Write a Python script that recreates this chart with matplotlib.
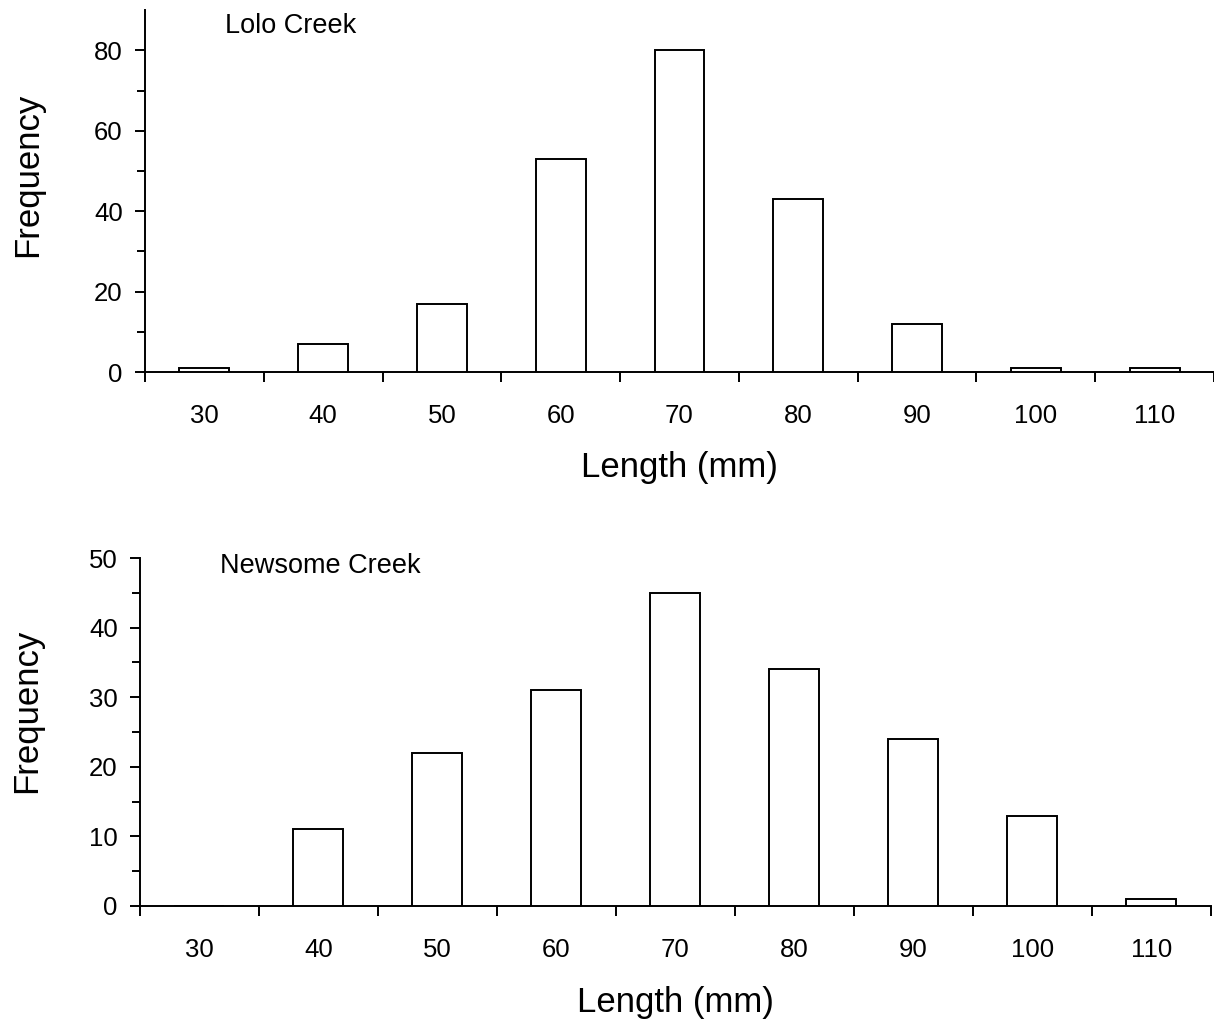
import numpy as np
import matplotlib.pyplot as plt

# %% Daten (Längenklassen und Häufigkeiten)
laenge = [30, 40, 50, 60, 70, 80, 90, 100, 110]
lolo = [1, 7, 17, 53, 80, 43, 12, 1, 1]
newsome = [0, 11, 22, 31, 45, 34, 24, 13, 1]
kanten = [25, 35, 45, 55, 65, 75, 85, 95, 105, 115]

plt.rcParams["font.family"] = ["Liberation Sans", "DejaVu Sans"]

fig = plt.figure(figsize=(12.14, 10.19), dpi=100)
ax1 = fig.add_axes([0.1194, 0.6349, 0.8806, 0.3552])
ax2 = fig.add_axes([0.1153, 0.1109, 0.8822, 0.3415])


def panel(ax, werte, name, ymax, ystep, ylab_x, ylab_y, name_y, xpad):
    ax.bar(laenge, werte, width=4.2, color="white", edgecolor="black",
           linewidth=1.4, zorder=3)
    ax.set_xlim(25, 115)
    ax.set_ylim(0, ymax)
    ax.spines["top"].set_visible(False)
    ax.spines["right"].set_visible(False)
    ax.spines["left"].set_linewidth(1.4)
    ax.spines["bottom"].set_linewidth(1.4)

    # Striche zwischen den Balken, Beschriftung unter den Balken
    ax.set_xticks(kanten)
    ax.set_xticklabels([])
    ax.set_xticks(laenge, minor=True)
    ax.set_xticklabels([str(v) for v in laenge], minor=True)
    ax.tick_params(axis="x", which="major", direction="out", length=7.5,
                   width=1.4)
    ax.tick_params(axis="x", which="minor", length=0, pad=23, labelsize=18.5)

    ax.set_yticks(np.arange(0, ymax + 1, ystep))
    ax.set_yticks(np.arange(ystep / 2, ymax, ystep), minor=True)
    ax.tick_params(axis="y", which="major", direction="out", length=7.5,
                   width=1.4, pad=8.5, labelsize=18.5)
    ax.tick_params(axis="y", which="minor", direction="out", length=5.5,
                   width=1.4)

    ax.set_xlabel("Length (mm)", fontsize=25, labelpad=xpad)
    ax.set_ylabel("Frequency", fontsize=25)
    ax.yaxis.set_label_coords(ylab_x, ylab_y)
    ax.text(0.075, name_y, name, transform=ax.transAxes, fontsize=19.5,
            va="baseline", ha="left")


panel(ax1, lolo, "Lolo Creek", 90, 20, -0.094, 0.545, 0.936, 16.5)
panel(ax2, newsome, "Newsome Creek", 50, 10, -0.090, 0.56, 0.957, 17)

plt.savefig("out.png", dpi=100)
